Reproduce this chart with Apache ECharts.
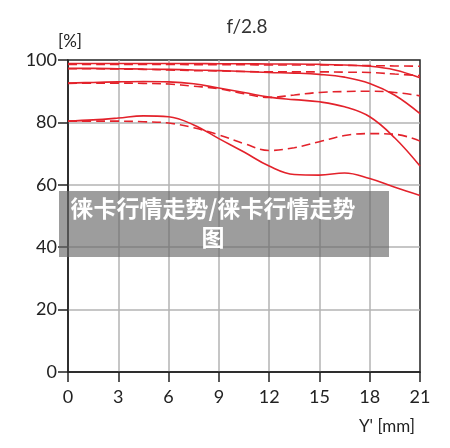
<!DOCTYPE html>
<html>
<head>
<meta charset="utf-8">
<script src="https://cdn.jsdelivr.net/npm/echarts@6/dist/echarts.min.js"></script>
<style>
  html, body { margin: 0; padding: 0; background: #fff; }
  #main { width: 450px; height: 448px; }
</style>
</head>
<body>
<div id="main"></div>
<script>
// image height Y' [mm]
const yPos = [0, 1.5, 3, 4.5, 6, 7.5, 9, 10.5, 12, 13.5, 15, 16.5, 18, 19.5, 21]

// contrast [%], solid = sagittal, dashed = meridional
const solidA = [98.9, 98.9, 98.9, 98.9, 98.9, 98.9, 98.8, 98.8, 98.7, 98.7, 98.6, 98.4, 98.0, 96.8, 94.3]
const dashA = [98.6, 98.6, 98.6, 98.6, 98.6, 98.5, 98.5, 98.5, 98.4, 98.4, 98.4, 98.3, 98.2, 98.1, 98.0]
const solidB = [97.3, 97.3, 97.2, 97.1, 97.0, 96.8, 96.6, 96.3, 96.0, 95.8, 95.4, 94.5, 92.5, 88.7, 82.8]
const dashB = [97.2, 97.2, 97.1, 97.0, 96.8, 96.6, 96.5, 96.3, 96.2, 96.2, 96.2, 96.1, 96.0, 95.5, 95.0]
const solidC = [92.6, 92.8, 93.0, 93.1, 93.0, 92.4, 91.0, 89.6, 88.1, 87.3, 86.6, 85.0, 81.8, 75.0, 66.0]
const dashC = [92.5, 92.6, 92.6, 92.5, 92.3, 91.6, 90.8, 89.2, 88.0, 88.8, 89.6, 89.9, 90.0, 89.6, 88.5]
const solidD = [80.4, 80.8, 81.4, 82.1, 81.8, 79.2, 74.8, 70.5, 66.0, 63.3, 63.1, 63.8, 62.0, 59.2, 56.6]
const dashD = [80.4, 80.4, 80.4, 80.2, 79.8, 78.3, 76.0, 73.2, 71.0, 71.9, 73.8, 75.8, 76.4, 76.2, 74.0]

const red = '#e3222b'
const fontFam = 'Lato, "Noto Sans", sans-serif'

const pairs = (vals) => yPos.map((x, i) => [x, vals[i]])

const mkLine = (vals, dashed) => ({
  type: 'line',
  data: pairs(vals),
  smooth: 0.4,
  showSymbol: false,
  silent: true,
  lineStyle: {
    color: red,
    width: 1.6,
    type: dashed ? [9, 5] : 'solid'
  },
  z: 3
})

const chart = echarts.init(document.getElementById('main'))

const option = {
  animation: false,
  title: {
    text: 'f/2.8',
    left: 242,
    top: 12,
    textAlign: 'center',
    textStyle: { fontFamily: fontFam, fontSize: 19, fontWeight: 'normal', color: '#333' }
  },
  grid: {
    left: 68, right: 30, top: 60, bottom: 76,
    show: true,
    borderColor: '#222',
    borderWidth: 1.5
  },
  xAxis: {
    type: 'value',
    min: 0, max: 21, interval: 3,
    axisLine: { lineStyle: { color: '#222', width: 1.5 } },
    axisTick: { show: true, length: 10, lineStyle: { color: '#222', width: 1.5 } },
    axisLabel: { margin: 16, fontFamily: fontFam, fontSize: 18, color: '#222' },
    splitLine: { show: true, showMinLine: false, showMaxLine: false, lineStyle: { color: '#b3b3b3', width: 1.5 } }
  },
  yAxis: {
    type: 'value',
    min: 0, max: 100, interval: 20,
    axisLine: { show: true, lineStyle: { color: '#222', width: 1.5 } },
    axisTick: { show: true, length: 10, lineStyle: { color: '#222', width: 1.5 } },
    axisLabel: { margin: 11, fontFamily: fontFam, fontSize: 18, color: '#222' },
    splitLine: { show: true, showMinLine: false, showMaxLine: false, lineStyle: { color: '#b3b3b3', width: 1.5 } }
  },
  series: [
    mkLine(solidA, false), mkLine(dashA, true),
    mkLine(solidB, false), mkLine(dashB, true),
    mkLine(solidC, false), mkLine(dashC, true),
    mkLine(solidD, false), mkLine(dashD, true)
  ],
  graphic: [
    {
      type: 'text', left: 58, top: 33,
      style: { text: '[%]', fontFamily: fontFam, fontSize: 17, fill: '#222' }
    },
    {
      type: 'text', left: 359, top: 418,
      style: { text: "Y' [mm]", fontFamily: fontFam, fontSize: 17, fill: '#222' }
    },
    {
      type: 'rect', shape: { x: 59, y: 191, width: 330, height: 66 },
      style: { fill: 'rgba(105,105,105,0.65)' }, z: 100
    },
    {
      type: 'text', x: 213, y: 194, z: 101,
      style: {
        text: '徕卡行情走势/徕卡行情走势\n图',
        align: 'center',
        fontFamily: '"Noto Sans CJK SC", sans-serif',
        fontSize: 23, fontWeight: 'bold', lineHeight: 29,
        fill: '#fff'
      }
    }
  ]
}

chart.setOption(option)
</script>
</body>
</html>
